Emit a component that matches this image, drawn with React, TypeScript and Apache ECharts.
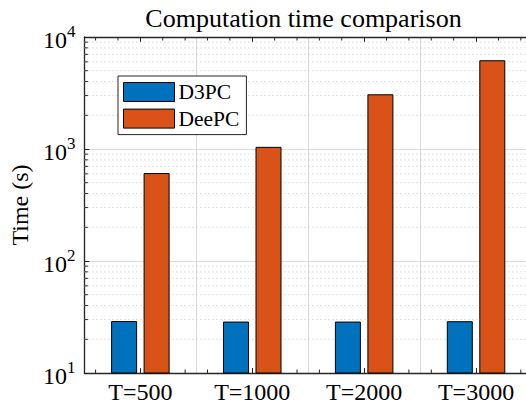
import React, { useEffect, useRef } from "react";
import * as echarts from "echarts";

const categories = ["T=500", "T=1000", "T=2000", "T=3000"];
const d3pcTimes = [29.1, 28.8, 28.8, 29.0];
const deepcTimes = [610, 1045, 3080, 6200];
const yMinorValues = [
  20, 30, 40, 50, 60, 70, 80, 90,
  200, 300, 400, 500, 600, 700, 800, 900,
  2000, 3000, 4000, 5000, 6000, 7000, 8000, 9000,
];
const xMinorPositions = [
  0.6, 0.8, 1.2, 1.4, 1.6, 1.8, 2.2, 2.4, 2.6, 2.8, 3.2, 3.4, 3.6, 3.8, 4.2, 4.4,
];

const FONT = "'Liberation Serif', 'Times New Roman', serif";
const AX = "#262626";

export default function App() {
  const ref = useRef<HTMLDivElement>(null);
  useEffect(() => {
    const chart = echarts.init(ref.current!, null, { renderer: "svg" });
    const option: any = {
      animation: false,
      backgroundColor: "#ffffff",
      textStyle: { fontFamily: FONT },
      graphic: [
        {
          type: "text",
          x: 303.5,
          y: 18,
          style: {
            text: "Computation time comparison",
            font: `26px ${FONT}`,
            fill: "#000",
            textAlign: "center",
            textVerticalAlign: "middle",
          },
        },
      ],
      grid: { left: 80, width: 452, top: 37, bottom: 31, containLabel: false },
      legend: {
        orient: "vertical",
        left: 118,
        top: 76,
        padding: [5, 7, 5, 5],
        itemGap: 4.6,
        itemWidth: 51,
        itemHeight: 19,
        icon: "rect",
        backgroundColor: "#fff",
        borderColor: AX,
        borderWidth: 1,
        borderRadius: 0,
        itemStyle: { borderColor: "#000", borderWidth: 1 },
        textStyle: { fontFamily: FONT, fontSize: 21.5, color: "#000", lineHeight: 21, padding: [0, 0, 0, -1] },
        data: ["D3PC", "DeePC"],
      },
      xAxis: [
        {
          type: "category",
          data: categories,
          position: "bottom",
          axisLine: { show: true, lineStyle: { color: AX, width: 1.3 } },
          axisTick: { show: true, inside: true, alignWithLabel: true, length: 5, lineStyle: { color: AX, width: 1 } },
          axisLabel: { fontFamily: FONT, fontSize: 24, color: "#000", margin: 7 },
          splitLine: { show: true, interval: 0, lineStyle: { color: "#dcdcdc", width: 1.2 } },
        },
        {
          type: "category",
          data: categories,
          position: "top",
          axisLine: { show: true, lineStyle: { color: AX, width: 1.3 } },
          axisTick: { show: true, inside: true, alignWithLabel: true, length: 5, lineStyle: { color: AX, width: 1 } },
          axisLabel: { show: false },
          splitLine: { show: false },
        },
      ],
      yAxis: {
        type: "log",
        logBase: 10,
        min: 10,
        max: 10000,
        name: "Time (s)",
        nameLocation: "middle",
        nameGap: 47,
        nameTextStyle: { fontFamily: FONT, fontSize: 24, color: "#000" },
        axisLine: { show: true, lineStyle: { color: AX, width: 1.3 } },
        axisTick: { show: true, inside: true, length: 5, lineStyle: { color: AX, width: 1 } },
        splitLine: { show: true, lineStyle: { color: "#dcdcdc", width: 1.2 } },
        axisLabel: {
          margin: 9,
          formatter: (v: number) => `{b|10}{s|${Math.round(Math.log10(v))}}`,
          rich: {
            b: { fontFamily: FONT, fontSize: 24, color: "#000", verticalAlign: "bottom", lineHeight: 29 },
            s: { fontFamily: FONT, fontSize: 17, color: "#000", verticalAlign: "top", lineHeight: 29 },
          },
        },
      },
      series: [
        {
          type: "custom",
          name: "minorY",
          xAxisIndex: 0,
          z: 1,
          silent: true,
          dimensions: ["c", "v"],
          encode: { x: 0, y: 1 },
          data: yMinorValues.map((v) => [0, v]),
          renderItem: (params: any, api: any) => {
            const cs = params.coordSys;
            const y = api.coord([0, api.value(1)])[1];
            return {
              type: "group",
              children: [
                {
                  type: "line",
                  shape: { x1: cs.x, y1: y, x2: cs.x + cs.width, y2: y },
                  style: { stroke: "#c4c4c4", lineWidth: 1, lineDash: [1, 3] },
                },
                {
                  type: "line",
                  shape: { x1: cs.x, y1: y, x2: cs.x + 3.5, y2: y },
                  style: { stroke: AX, lineWidth: 1 },
                },
              ],
            };
          },
        },
        {
          type: "custom",
          name: "minorX",
          xAxisIndex: 0,
          z: 1,
          silent: true,
          dimensions: ["c", "v", "p"],
          encode: { x: 0, y: 1 },
          data: xMinorPositions.map((p) => [0, 10, p]),
          renderItem: (params: any, api: any) => {
            const cs = params.coordSys;
            const c0 = api.coord([0, 10])[0];
            const band = api.size([1, 0])[0];
            const x = c0 + (api.value(2) - 1) * band;
            const yb = cs.y + cs.height;
            return {
              type: "group",
              children: [
                { type: "line", shape: { x1: x, y1: yb, x2: x, y2: yb - 3.5 }, style: { stroke: AX, lineWidth: 1 } },
                { type: "line", shape: { x1: x, y1: cs.y, x2: x, y2: cs.y + 3.5 }, style: { stroke: AX, lineWidth: 1 } },
              ],
            };
          },
        },
        {
          type: "bar",
          name: "D3PC",
          xAxisIndex: 0,
          z: 3,
          data: d3pcTimes,
          barWidth: 26,
          barGap: "25%",
          itemStyle: { color: "#0072BD", borderColor: "#000", borderWidth: 1 },
        },
        {
          type: "bar",
          name: "DeePC",
          xAxisIndex: 0,
          z: 3,
          data: deepcTimes,
          barWidth: 26,
          barGap: "25%",
          itemStyle: { color: "#D95319", borderColor: "#000", borderWidth: 1 },
        },
      ],
    };
    chart.setOption(option);
    return () => chart.dispose();
  }, []);
  return (
    <div
      ref={ref}
      style={{ position: "fixed", left: 0, top: 0, width: 546, height: 404, background: "#fff" }}
    />
  );
}
